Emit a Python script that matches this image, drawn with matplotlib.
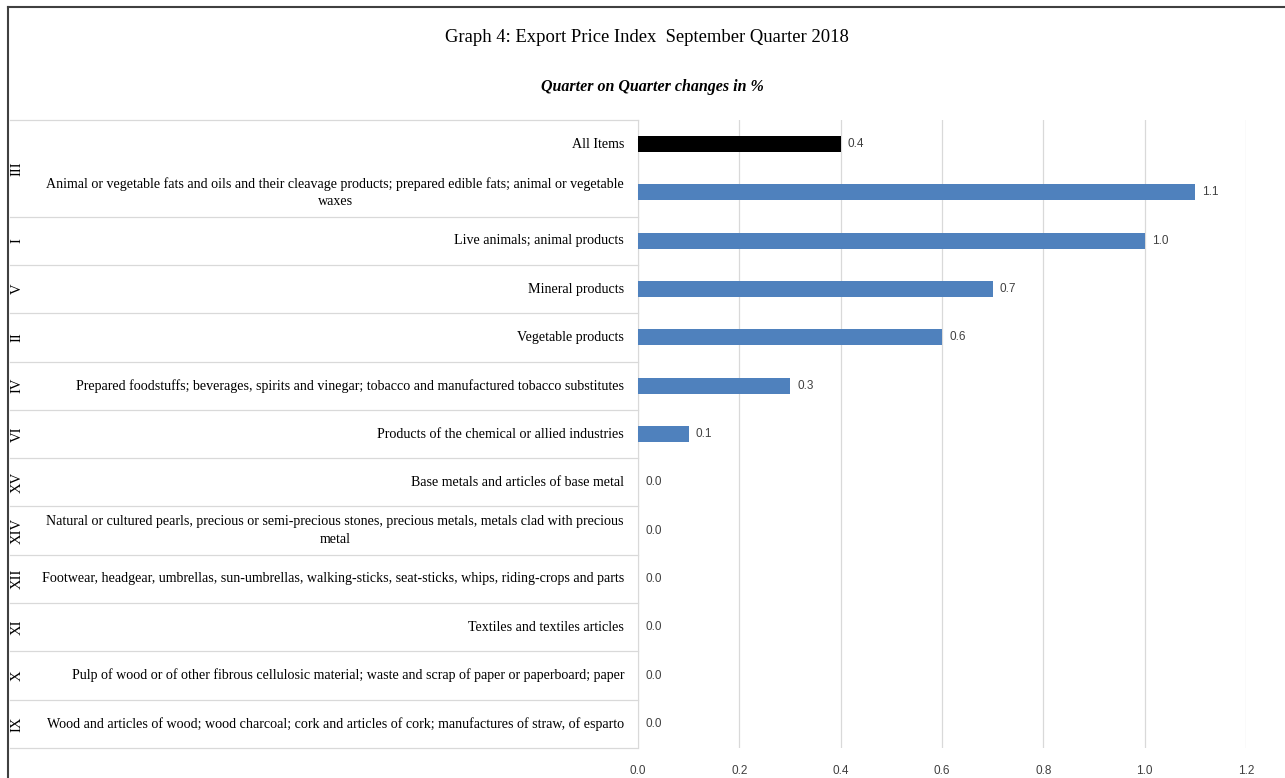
import matplotlib.pyplot as plt
import numpy as np

# Chart data
sections = ['', 'III', 'I', 'V', 'II', 'IV', 'VI', 'XV', 'XIV', 'XII', 'XI', 'X', 'IX']
categories = [
    'All Items',
    'Animal or vegetable fats and oils and their cleavage products; prepared edible fats; animal or vegetable\nwaxes',
    'Live animals; animal products',
    'Mineral products',
    'Vegetable products',
    'Prepared foodstuffs; beverages, spirits and vinegar; tobacco and manufactured tobacco substitutes',
    'Products of the chemical or allied industries',
    'Base metals and articles of base metal',
    'Natural or cultured pearls, precious or semi-precious stones, precious metals, metals clad with precious\nmetal',
    'Footwear, headgear, umbrellas, sun-umbrellas, walking-sticks, seat-sticks, whips, riding-crops and parts',
    'Textiles and textiles articles',
    'Pulp of wood or of other fibrous cellulosic material; waste and scrap of paper or paperboard; paper',
    'Wood and articles of wood; wood charcoal; cork and articles of cork; manufactures of straw, of esparto',
]
values = [0.4, 1.1, 1.0, 0.7, 0.6, 0.3, 0.1, 0.0, 0.0, 0.0, 0.0, 0.0, 0.0]
xticks = [0.0, 0.2, 0.4, 0.6, 0.8, 1.0, 1.2]

serif = 'Liberation Serif'
sans = 'Liberation Sans'
blue = '#4F81BD'
grid = '#D9D9D9'

W, H = 1285, 778
fig = plt.figure(figsize=(W / 100, H / 100), dpi=100)
ax = fig.add_axes([638 / W, 1 - 748 / H, (1246 - 638) / W, (748 - 120) / H])

y = np.arange(len(values))
colors = ['black'] + [blue] * (len(values) - 1)
ax.barh(y, values, height=0.33, color=colors, zorder=3)
ax.set_ylim(len(values) - 0.5, -0.5)
ax.set_xlim(0, 1.2)

ax.set_xticks(xticks)
ax.set_xticklabels([f'{t:.1f}' for t in xticks], fontfamily=sans, fontsize=8.5, color='#404040')
ax.tick_params(axis='x', length=0, pad=12)
ax.set_yticks([])
ax.grid(axis='x', color=grid, linewidth=0.9, zorder=0)
for s in ['top', 'right', 'bottom']:
    ax.spines[s].set_visible(False)
ax.spines['left'].set_color(grid)

# value labels
for yi, v in zip(y, values):
    ax.text(v + 0.014, yi, f'{v:.1f}', va='center', ha='left',
            fontfamily=sans, fontsize=8.5, color='#404040')

# category labels, section numerals and table lines
ytr = ax.get_yaxis_transform()
axw = 1246 - 638
for yi, lab in zip(y, categories):
    ax.text(-14 / axw, yi, lab, transform=ytr, ha='right', va='center',
            multialignment='center', fontfamily=serif, fontsize=10.1, clip_on=False,
            linespacing=1.45)
for yi, sec in zip(y, sections):
    if not sec:
        continue
    yc = 0.5 if sec == 'III' else yi
    ax.text((17 - 638) / axw, yc, sec, transform=ytr, ha='center', va='center',
            rotation=90, fontfamily=serif, fontsize=10.5, clip_on=False)
for b in [-0.5] + list(np.arange(1.5, len(values), 1.0)):
    ax.plot([(10 - 638) / axw, 0], [b, b], transform=ytr, color=grid,
            linewidth=0.9, clip_on=False)

# titles
fig.text(647 / W, 1 - 37 / H, 'Graph 4: Export Price Index  September Quarter 2018',
         ha='center', va='center', fontfamily=serif, fontsize=13.4)
fig.text(652 / W, 1 - 87 / H, 'Quarter on Quarter changes in %', ha='center', va='center',
         fontfamily=serif, fontsize=11.5, fontweight='bold', fontstyle='italic')

# outer frame
fig.add_artist(plt.Line2D([8 / W, 8 / W], [0, 1 - 7 / H], transform=fig.transFigure,
                          color='#404040', linewidth=1.5))
fig.add_artist(plt.Line2D([8 / W, 1], [1 - 7 / H, 1 - 7 / H], transform=fig.transFigure,
                          color='#404040', linewidth=1.5))

fig.savefig('out.png', dpi=100, facecolor='white')
